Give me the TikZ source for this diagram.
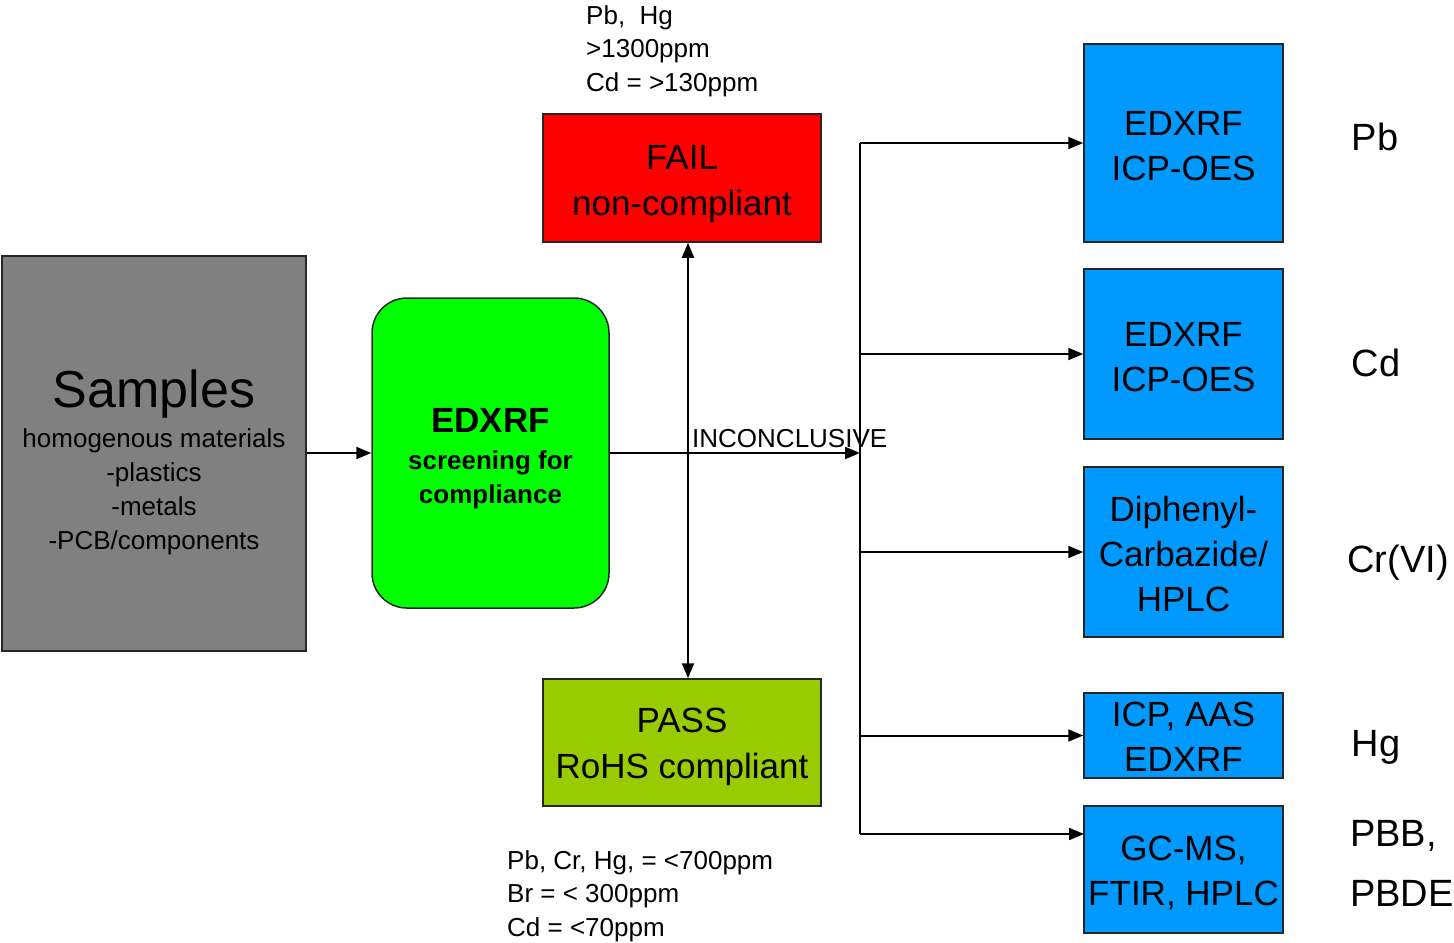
\documentclass[tikz,border=0pt]{standalone}
\usepackage{fontspec}
\setmainfont{Liberation Sans}
\usetikzlibrary{arrows.meta}
\definecolor{smpgray}{HTML}{808080}
\definecolor{scrgreen}{HTML}{00FF00}
\definecolor{failred}{HTML}{FF0000}
\definecolor{passgreen}{HTML}{99CC00}
\definecolor{methblue}{HTML}{0099FF}
\newcommand{\fs}[2]{\fontsize{#1bp}{#2bp}\selectfont}
\newcommand{\lift}[1]{\rule{0pt}{#1bp}}

\tikzset{
  box/.style={draw=black!85,line width=1.5bp,inner sep=2bp,align=center},
  bluebox/.style={box,fill=methblue,minimum width=199bp,font=\fs{35}{45}},
  arr/.style={line width=2bp,->},
  note/.style={inner sep=0pt,align=left,font=\fs{26}{33.5}},
  elem/.style={inner sep=0pt,font=\fs{38}{60}},
}

\begin{document}
\begin{tikzpicture}[x=1bp,y=-1bp,>={Triangle[length=15bp,width=12bp]}]
  \useasboundingbox (0,0) rectangle (1454,942);
  % screening stage
  \node[box,fill=smpgray,minimum width=304bp,minimum height=395bp,font=\fs{26}{34}] (samples) at (154,453.5)
    {{\fs{52}{60}\lift{56}Samples}\\[6bp]homogenous materials\\-plastics\\-metals\\-PCB/components};
  \node[box,fill=scrgreen,rounded corners=35bp,minimum width=237bp,minimum height=310bp,font=\bfseries\fs{26}{34}] (screen) at (490.5,453)
    {{\fs{35}{40}\lift{35}EDXRF}\\[3bp]screening for\\compliance};
  \node[box,fill=failred,minimum width=278bp,minimum height=128bp,font=\fs{35}{46}] (fail) at (682,178) {\lift{36}FAIL\\non-compliant};
  \node[box,fill=passgreen,minimum width=278bp,minimum height=127bp,font=\fs{35}{46}] (pass) at (682,742.5) {\lift{34}PASS\\RoHS compliant};
  \node[note,anchor=north west] (failnote) at (586,5) {Pb,\ \ Hg\\>1300ppm\\Cd = >130ppm};
  \node[note,anchor=north west] (passnote) at (507,850) {Pb, Cr, Hg, = <700ppm\\Br = < 300ppm\\Cd = <70ppm};
  \node[inner sep=0pt,font=\fs{26}{30},anchor=base west] (incl) at (692,447) {INCONCLUSIVE};
  \coordinate (vx) at (688,453);
  \coordinate (split) at (860,453);

  % confirmation methods
  \node[bluebox,minimum height=198bp] (b1) at (1183.5,143) {\lift{30}EDXRF\\ICP-OES};
  \node[bluebox,minimum height=170bp] (b2) at (1183.5,354) {\lift{30}EDXRF\\ICP-OES};
  \node[bluebox,minimum height=170bp] (b3) at (1183.5,552) {\lift{29}Diphenyl-\\Carbazide/\\HPLC};
  \node[bluebox,minimum height=85bp] (b4) at (1183.5,735.5) {\lift{27}ICP, AAS\\EDXRF};
  \node[bluebox,minimum height=127bp] (b5) at (1183.5,869.5) {\lift{32}GC-MS,\\FTIR, HPLC};
  \coordinate (b5in) at (1084,834);

  \node[elem,anchor=base] (pb) at (1375,150) {Pb};
  \node[elem,anchor=base] (cd) at (1376,376) {Cd};
  \node[elem,anchor=base] (cr) at (1398,572) {Cr(VI)};
  \node[elem,anchor=base] (hg) at (1376,756) {Hg};
  \node[elem,align=left,anchor=north west] (pbb) at (1350,820) {PBB,\\PBDE};

  % connectors
  \draw[arr] (samples.east |- screen.west) -- (screen.west);
  \draw[arr] (screen.east) -- (split);
  \draw[line width=2bp,<->] (fail.south -| vx) -- (pass.north -| vx);
  \draw[line width=2bp] (split |- b1.west) -- (split |- b5in);
  \foreach \b in {b1,b2,b3,b4}
    \draw[arr] (split |- \b.west) -- (\b.west);
  \draw[arr] (split |- b5in) -- (b5in);
\end{tikzpicture}
\end{document}
